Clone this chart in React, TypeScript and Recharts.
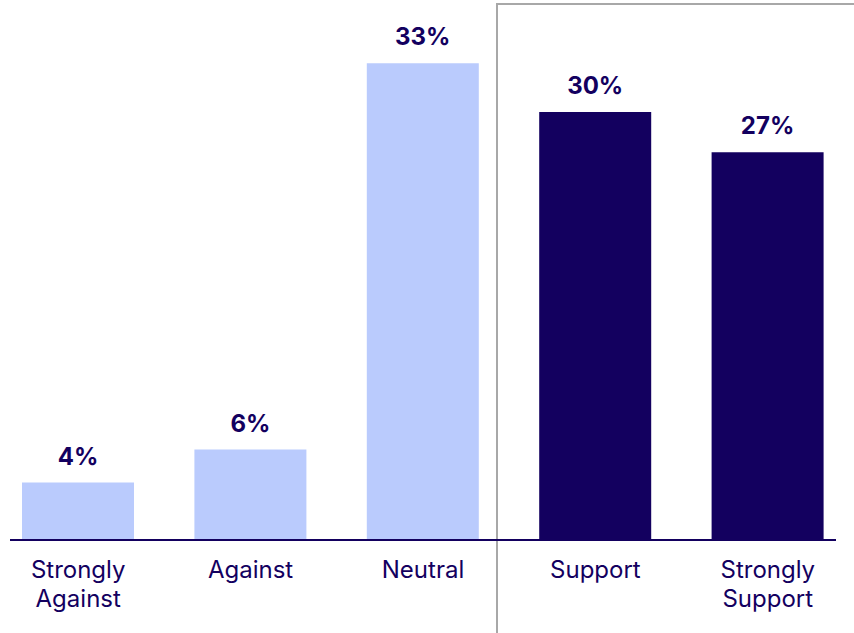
import React from "react"
import { BarChart, Bar, XAxis, YAxis, Cell, LabelList } from "recharts"

const categories = ["Strongly Against", "Against", "Neutral", "Support", "Strongly Support"]
const shares = [4.0, 6.3, 33.2, 29.8, 27.0]
const supportSide = [false, false, false, true, true]
const valueMax = 37.6

const LIGHT = "#bacbfd"
const NAVY = "#13005f"
const FONT = "Inter, 'Noto Sans', sans-serif"

const data = categories.map((name, i) => ({ name, share: shares[i], support: supportSide[i] }))

const WrappedTick = (props: any) => {
  const { x, payload } = props
  const words: string[] = String(payload.value).split(" ")
  return (
    <text x={x} y={540} textAnchor="middle" fill={NAVY} fontSize={24} fontFamily={FONT}>
      {words.map((w, i) => (
        <tspan key={i} x={x} dy={i === 0 ? 38 : 29}>
          {w}
        </tspan>
      ))}
    </text>
  )
}

const App: React.FC = () => {
  return (
    <div style={{ position: "absolute", left: 0, top: 0, width: 854, height: 633, overflow: "hidden", background: "#fff" }}>
      <div
        style={{
          position: "absolute",
          left: 496,
          top: 3,
          width: 400,
          height: 700,
          border: "2px solid #a8a8a8",
          boxSizing: "border-box",
        }}
      />
      <BarChart
        width={854}
        height={633}
        data={data}
        margin={{ top: 0, right: 0, left: -8, bottom: 0 }}
        barSize={112}
        style={{ position: "absolute", left: 0, top: 0 }}
      >
        <XAxis
          dataKey="name"
          height={93}
          interval={0}
          tickLine={false}
          axisLine={false}
          tick={<WrappedTick />}
        />
        <YAxis hide domain={[0, valueMax]} />
        <Bar dataKey="share" isAnimationActive={false}>
          {data.map((d, i) => (
            <Cell key={i} fill={d.support ? NAVY : LIGHT} />
          ))}
          <LabelList
            dataKey="share"
            position="top"
            offset={18}
            formatter={(v: any) => `${Math.round(Number(v))}%`}
            style={{ fill: NAVY, fontSize: 24, fontWeight: 700, fontFamily: FONT }}
          />
        </Bar>
      </BarChart>
      <div style={{ position: "absolute", left: 10, top: 539, width: 826, height: 2, background: NAVY }} />
    </div>
  )
}

export default App
